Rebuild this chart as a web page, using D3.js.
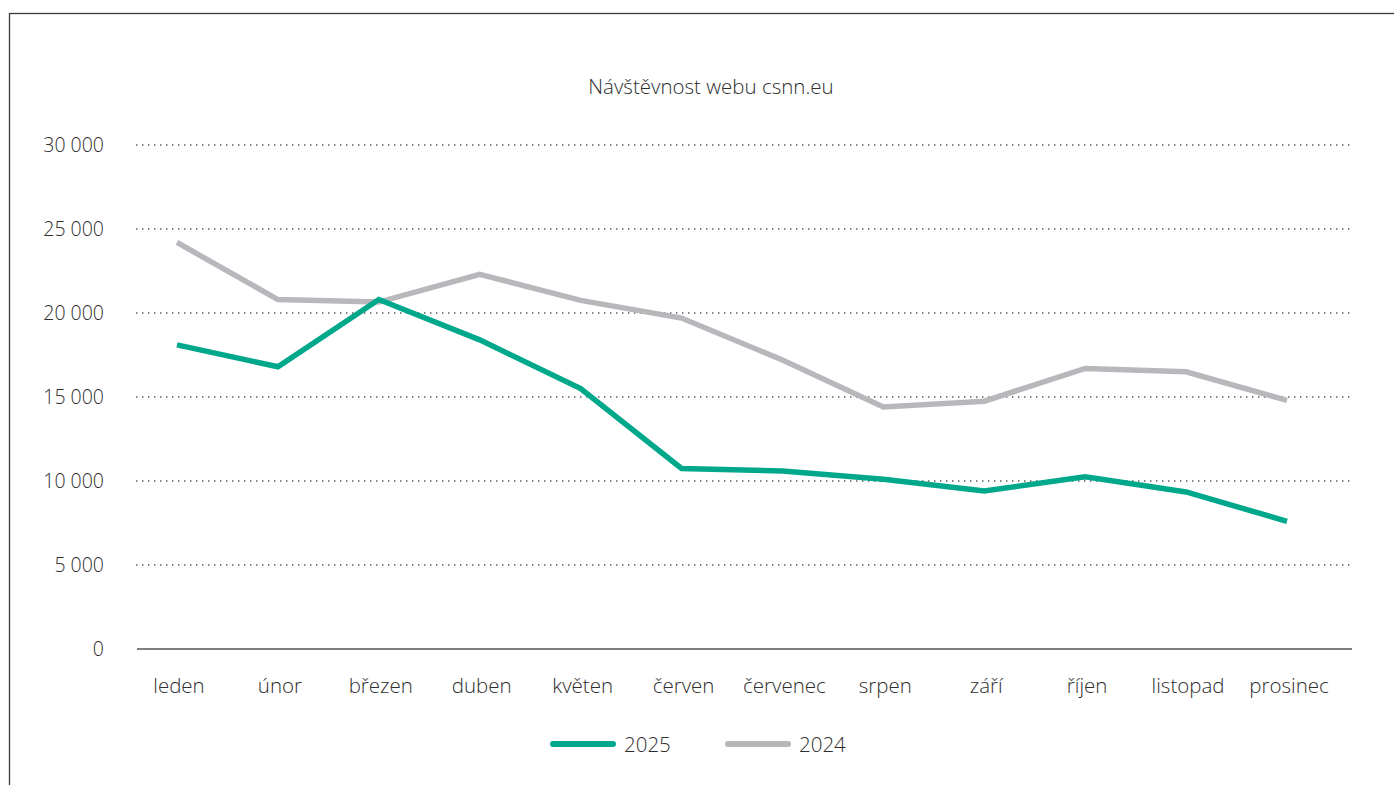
<!DOCTYPE html>
<html>
<head>
<meta charset="utf-8">
<script src="https://cdn.jsdelivr.net/npm/d3@7"></script>
<style>
  body { margin: 0; background: #fff; }
  text { font-family: "Open Sans", "Noto Sans", sans-serif; font-weight: 300; fill: #2e2e2e; }
</style>
</head>
<body>
<div id="canvas"></div>
<script>
// DATA
const months = ["leden", "únor", "březen", "duben", "květen", "červen",
  "červenec", "srpen", "září", "říjen", "listopad", "prosinec"];
const visits2025 = [18100, 16800, 20800, 18400, 15500, 10750, 10600, 10100, 9400, 10250, 9350, 7600];
const visits2024 = [24200, 20800, 20650, 22300, 20750, 19700, 17200, 14400, 14750, 16700, 16500, 14800];
const yTicks = [0, 5000, 10000, 15000, 20000, 25000, 30000];
const seriesNames = ["2025", "2024"];

function drawGraph() {
  // DIMENSIONS
  const width = 1394;
  const height = 785;

  const green = "#00a88b";
  const grey = "#b7b8bc";

  // CANVAS
  const canvas = d3.select("#canvas")
    .append("svg")
    .attr("width", width)
    .attr("height", height);

  // FRAME
  canvas.append("rect")
    .attr("x", 9.5)
    .attr("y", 13.5)
    .attr("width", width + 20)
    .attr("height", height + 20)
    .attr("fill", "none")
    .attr("stroke", "#3a3a3a")
    .attr("stroke-width", 1.3);

  // TITLE
  canvas.append("text")
    .attr("x", 711)
    .attr("y", 94)
    .attr("text-anchor", "middle")
    .style("font-size", "20.5px")
    .text("Návštěvnost webu csnn.eu");

  // SCALES
  const xScale = d3.scalePoint()
    .domain(months)
    .range([177, 1287]);

  const yScale = d3.scaleLinear()
    .domain([0, 30000])
    .range([649, 145]);

  const fmt = d => d3.format(",")(d).replace(/,/g, " ");

  // GRID
  canvas.append("g")
    .selectAll("line")
    .data(yTicks.filter(d => d > 0))
    .join("line")
    .attr("x1", 136)
    .attr("x2", 1354)
    .attr("y1", d => yScale(d))
    .attr("y2", d => yScale(d))
    .attr("stroke", "#555")
    .attr("stroke-width", 1.4)
    .attr("stroke-dasharray", "1.4 4.6");

  // X AXIS LINE
  canvas.append("line")
    .attr("x1", 137)
    .attr("x2", 1352)
    .attr("y1", yScale(0))
    .attr("y2", yScale(0))
    .attr("stroke", "#555")
    .attr("stroke-width", 1.5);

  // Y LABELS
  canvas.append("g")
    .selectAll("text")
    .data(yTicks)
    .join("text")
    .attr("x", 104)
    .attr("y", d => yScale(d) + 7)
    .attr("text-anchor", "end")
    .style("font-size", "19.5px")
    .text(d => fmt(d));

  // X LABELS
  canvas.append("g")
    .selectAll("text")
    .data(months)
    .join("text")
    .attr("x", d => xScale(d) + 2)
    .attr("y", 693)
    .attr("text-anchor", "middle")
    .style("font-size", "20.5px")
    .text(d => d);

  // LINES
  const line = d3.line()
    .x((d, i) => xScale(months[i]))
    .y(d => yScale(d));

  canvas.append("path")
    .datum(visits2024)
    .attr("d", line)
    .attr("fill", "none")
    .attr("stroke", grey)
    .attr("stroke-width", 5.5);

  canvas.append("path")
    .datum(visits2025)
    .attr("d", line)
    .attr("fill", "none")
    .attr("stroke", green)
    .attr("stroke-width", 5.5);

  // LEGEND
  const legend = canvas.append("g")
    .selectAll("g")
    .data(seriesNames)
    .join("g")
    .attr("transform", (d, i) => `translate(${553 + i * 175}, 744)`);

  legend.append("line")
    .attr("x1", 0)
    .attr("x2", 60)
    .attr("stroke", (d, i) => i === 0 ? green : grey)
    .attr("stroke-width", 6)
    .attr("stroke-linecap", "round");

  legend.append("text")
    .attr("x", 71)
    .attr("y", 7.5)
    .style("font-size", "20.5px")
    .text(d => d);
}

drawGraph();
</script>
</body>
</html>
